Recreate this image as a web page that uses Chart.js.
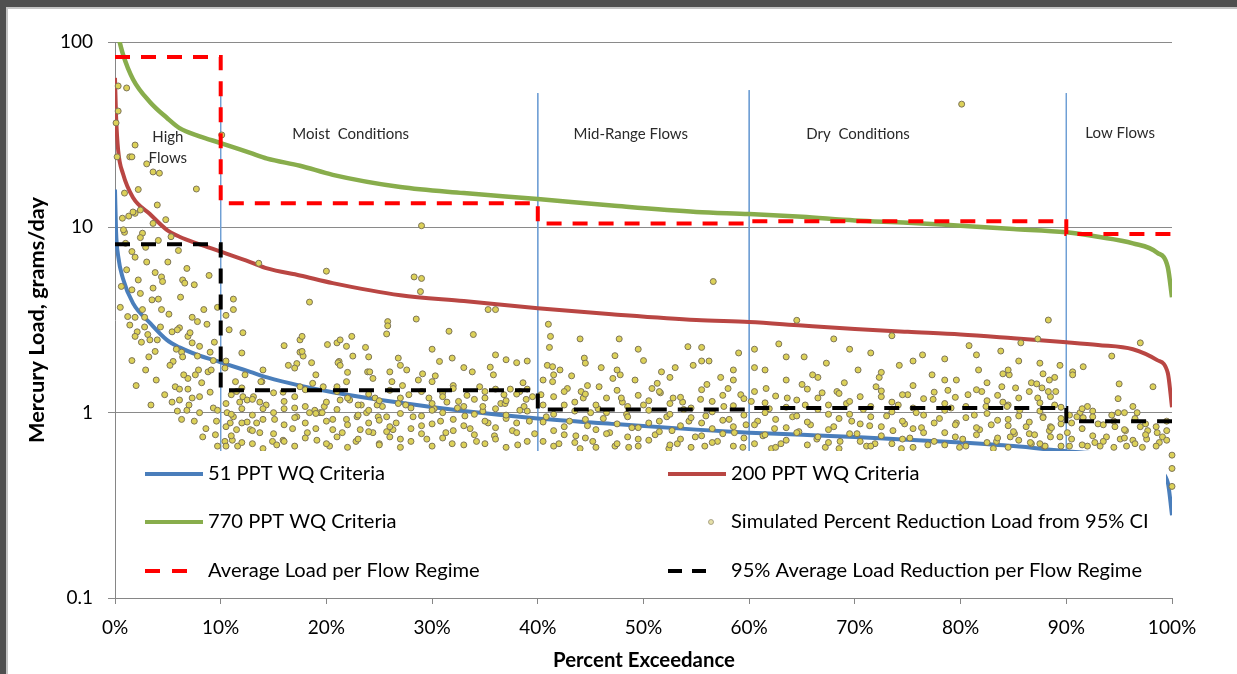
<!DOCTYPE html>
<html><head><meta charset="utf-8">
<script src="https://cdn.jsdelivr.net/npm/chart.js@4/dist/chart.umd.min.js"></script>
<style>html,body{margin:0;padding:0;background:#fff;overflow:hidden}canvas{display:block}</style>
</head><body>
<canvas id="c" width="1237" height="674"></canvas>
<script>
// ---------- DATA ----------
const exceedancePct = [0, 0.1, 0.3, 0.75, 1.7, 3.3, 4.9, 6.1, 8, 10, 12.8, 14.4, 17.5, 20.6, 27, 33, 40, 47, 55, 60, 65, 70, 75, 80, 85, 90, 93, 96.3, 98.6, 99.6, 100];
const load770 = [135, 122, 108, 86, 63, 47.5, 39, 34.3, 31, 28.5, 25.2, 23.5, 21.5, 19.2, 16.5, 15.3, 14.2, 13.1, 12.1, 11.8, 11.4, 10.9, 10.6, 10.2, 9.8, 9.4, 8.9, 8.2, 7.3, 6.1, 4.2];
const load200 = [64, 40, 26, 19.5, 14.5, 11.8, 9.7, 8.9, 8.1, 7.4, 6.5, 6.0, 5.5, 5.0, 4.3, 4.0, 3.66, 3.4, 3.16, 3.08, 2.95, 2.83, 2.73, 2.64, 2.52, 2.4, 2.32, 2.2, 1.92, 1.64, 1.07];
const load51 = [16, 9.5, 7.0, 5.3, 3.9, 3.05, 2.47, 2.25, 2.03, 1.87, 1.66, 1.55, 1.4, 1.29, 1.13, 1.02, 0.93, 0.87, 0.81, 0.78, 0.76, 0.74, 0.715, 0.69, 0.66, 0.62, 0.6, 0.57, 0.49, 0.42, 0.28];

const regimeEdges = [0, 10, 40, 60, 90, 100];
const avgLoadPerRegime = [83, 13.5, 10.5, 10.8, 9.2];
const avgReductionPerRegime = [8.1, 1.32, 1.04, 1.06, 0.9];
const regimeNames = [['High', 'Flows'], ['Moist  Conditions'], ['Mid-Range Flows'], ['Dry  Conditions'], ['Low Flows']];
const dividerPct = [10, 40, 60, 90];
const dividerTop = [53, 53, 55, 53];
const dividerBottom = 0.5;

const yTickValues = [0.1, 1, 10, 100];

const simulatedLoad = [
[0.3,57.9],[1.1,56.5],[0.3,42.4],[0.1,36.6],[0.2,24],[1.4,24],[1.6,24],[1.9,27.8],[3.6,19.9],[4.2,19.6],[0.9,15.3],[4.0,13.2],[7.7,16.1],[1.9,11.9],[1.3,11.5],[0.9,9.4],
[0.7,11.2],[1.7,12.1],[2.4,12.4],[0.8,9.7],[2.6,9.3],[2.4,8.8],[4.1,8.5],[6.0,7.5],[1.6,7.4],[1.9,6.9],[3.0,6.5],[5.0,6.5],[1.1,5.9],[3.8,5.7],[4.4,5.4],[2.2,5.2],[4.5,5.1],[6.4,5.2],[6.6,5.0],[3.6,4.7],[1.6,4.6],[2.4,4.4],[0.5,3.7],[3.5,4.06],[4.1,4.1],[2.6,3.6],[4.4,3.6],[1.9,3.27],[2.8,3.27],[7.3,3.27],[7.8,3.1],[1.4,2.97],[2.8,2.9],[8.7,3.0],[6.1,2.87],[5.4,2.73],[5.9,2.8],[2.1,2.73],[3.1,2.64],[1.9,2.58],[3.3,2.47],[4.0,2.47],[6.9,2.58],[7.3,2.38],[8.0,2.28],[3.8,2.14],[6.3,2.12],[1.6,1.91],[5.5,1.89],[6.4,2.0],[7.8,2.02],[9.0,2.12],[9.3,1.91],[8.8,1.66],[7.9,1.70],[7.6,1.6],[6.9,1.53],[9.0,1.29],[5.7,1.38],[6.1,1.34],[6.9,1.34],[5.4,1.14],[6.1,1.17],[7.3,1.2],[8.0,1.22],[5.9,1.02],[6.8,1.03],[8.0,1.0],[6.3,0.92],[9.3,1.06],[9.7,1.03],[9.5,0.76],[9.7,0.66],[8.3,0.74],[10.1,31.5],[9.7,3.7],
[2.0,1.4],[2.9,1.7],[3.4,1.1],[3.9,1.5],[4.7,1.25],[5.2,1.8],[5.8,2.2],[6.5,1.6],[7.0,1.1],[7.5,0.9],[8.2,1.45],[8.6,0.82],[9.1,1.7],[9.6,0.9],[4.3,2.9],[5.1,3.4],[6.2,4.2],[7.1,2.7],[8.4,3.6],[9.4,2.4],[3.2,2.0],[2.5,2.4],[1.2,3.3],[0.6,4.8],[1.0,8.2],[2.9,7.8],[3.6,10.5],[5.3,8.9],[4.8,11.0],[6.8,6.0],[7.5,4.9],[8.9,5.5],[2.2,16],[3.0,22.0],
[11.2,4.1],[11.2,3.6],[10.5,3.35],[18.4,3.95],[12.1,2.7],[10.8,2.8],[10.4,1.74],[11.4,1.47],[12.3,1.6],[13.9,1.47],[15.9,1.29],[16.4,1.8],[17.2,1.84],[17.5,2.47],[17.7,2.58],[17.5,2.12],[17.8,2.02],[17.0,1.74],[18.7,1.44],[20.1,2.33],[21.0,2.38],[21.3,2.47],[22.4,2.58],[21.2,1.89],[21.9,2.28],[22.5,2.02],[23.7,2.25],[23.9,1.66],[24.4,1.53],[25.8,3.1],[25.8,2.94],[25.7,2.66],[26.0,1.66],[11.5,1.3],[12.1,1.22],[12.5,1.17],[11.8,1.14],[13.1,1.22],[17.5,1.38],[21.0,1.38],[21.3,1.17],[22.2,1.17],[18.9,1.03],[18.4,1.0],[10.6,1.0],[11.2,0.95],[12.5,0.89],[13.4,0.88],[15.1,0.92],[17.2,0.95],[19.4,1.0],[20.6,0.92],[21.9,0.92],[22.9,0.95],[23.8,1.0],[24.9,0.95],[25.7,0.95],[11.5,0.81],[12.8,0.81],[13.7,0.78],[14.9,0.70],[15.9,0.71],[18.2,0.78],[19.1,0.71],[20.6,0.81],[23.2,0.81],[24.4,0.78],[25.7,0.79],[26.3,0.81],[11.1,0.71],[11.6,0.66],
[13.6,6.4],[20.0,5.8],[29.0,10.2],[28.3,5.4],[29.0,5.3],[28.9,4.5],[28.5,3.2],[31.6,2.75],[33.9,2.64],[35.3,3.6],[36.0,3.6],[17.7,2.14],[18.6,1.86],[21.1,1.86],[21.3,1.8],[26.8,1.97],[31.9,1.97],[35.5,1.76],[37.0,1.93],[38.0,1.86],[30.7,1.89],[24.1,1.66],[27.6,1.70],[29.1,1.62],[30.3,1.58],[33.8,1.66],[35.8,1.6],[38.6,1.45],[13.8,1.47],[19.7,1.38],[21.9,1.47],[26.2,1.47],[27.2,1.40],[28.7,1.5],[30.0,1.47],[32.0,1.4],[34.5,1.38],[36.0,1.34],[37.4,1.34],[38.3,1.3],
[27.5,1.1],[28.2,0.95],[29.0,0.85],[29.5,0.72],[30.2,1.05],[30.8,0.9],[31.3,0.78],[31.9,0.68],[32.5,1.15],[33.1,0.96],[33.6,0.82],[34.2,0.7],[34.8,1.02],[35.3,0.88],[35.9,0.75],[36.5,1.12],[37.0,0.93],[37.6,0.8],[38.1,0.67],[38.7,1.08],[39.2,0.9],[39.7,0.77],[26.6,0.88],[27.0,0.72],[25.0,0.68],[24.0,0.88],[22.8,0.7],[21.5,0.78],[20.3,0.66],[19.8,1.08],[18.0,0.88],[16.8,0.82],[16.0,1.05],[15.3,0.67],[14.3,1.1],[13.0,0.68],[12.0,1.05],[10.9,0.88],[10.4,0.7],[23.3,1.1],[24.6,1.2],[25.3,1.08],[27.8,1.25],[29.7,1.2],[31.0,1.28],[33.3,1.24],[35.0,1.2],[36.8,1.25],[38.9,1.18],[39.5,1.22],
[13.7,1.14],[17.0,1.06],[19.6,1.0],[24.8,1.1],[26.8,1.12],[30.0,1.03],[31.4,1.14],[32.4,1.06],[34.8,1.08],[36.9,1.12],[38.3,1.03],
[10.5,0.66],[10.5,0.84],[10.5,1.12],[10.5,1.9],[11.0,0.75],[11.0,0.98],[11.0,1.25],[12.0,0.69],[12.0,0.88],[12.0,1.36],[12.0,2.1],[13.0,0.8],[13.0,0.97],[13.0,1.18],[14.0,0.64],[14.0,0.92],[14.0,1.05],[14.0,1.7],[15.0,0.77],[15.0,1.0],[15.0,1.28],[16.0,0.7],[16.0,0.86],[16.0,1.15],[16.0,2.3],[17.0,0.66],[17.0,0.94],[17.0,1.22],[18.0,0.73],[18.0,1.08],[18.0,1.33],[19.0,0.82],[19.0,0.99],[19.0,1.6],[20.0,0.68],[20.0,0.9],[20.0,1.14],[21.0,0.74],[21.0,1.04],[21.0,1.3],[22.0,0.65],[22.0,0.86],[22.0,1.2],[22.0,1.65],[23.0,0.72],[23.0,0.97],[23.0,1.1],[24.0,0.79],[24.0,1.03],[24.0,1.26],[24.0,2.0],[25.0,0.67],[25.0,0.91],[25.0,1.16],[26.0,0.74],[26.0,0.84],[26.0,1.32],[27.0,0.65],[27.0,0.99],[27.0,1.2],[27.0,1.8],[28.0,0.7],[28.0,0.82],[28.0,1.06],[29.0,0.77],[29.0,0.96],[29.0,1.3],[30.0,0.66],[30.0,0.87],[30.0,1.12],[30.0,2.2],[31.0,0.73],[31.0,1.0],[31.0,1.22],[32.0,0.8],[32.0,0.92],[32.0,1.35],[33.0,0.67],[33.0,0.85],[33.0,1.08],[33.0,1.75],[34.0,0.76],[34.0,0.98],[34.0,1.18],[35.0,0.68],[35.0,0.9],[35.0,1.3],[36.0,0.72],[36.0,0.83],[36.0,1.05],[36.0,2.05],[37.0,0.65],[37.0,0.97],[37.0,1.16],[38.0,0.78],[38.0,0.88],[38.0,1.26],[39.0,0.7],[39.0,1.02],[39.0,1.34],[39.0,1.9],
[41.0,3.0],[41.2,2.58],[41.1,2.25],[44.0,2.5],[47.7,2.5],[44.4,1.97],[47.3,2.03],[50.0,1.91],[51.7,1.66],[54.2,2.27],[54.7,1.8],[40.9,1.8],[41.4,1.77],[42.1,1.7],[40.5,1.5],[41.4,1.47],[47.1,1.53],[47.8,1.6],[44.7,1.4],[45.8,1.38],[51.3,1.44],[52.8,1.2],[53.7,1.14],[48.0,1.14],[44.3,1.2],[45.0,1.0],
[40.3,1.25],[40.8,0.95],[41.5,0.8],[42.0,0.68],[42.5,1.1],[43.0,0.9],[43.6,0.75],[44.1,1.3],[44.7,0.85],[45.2,0.7],[45.7,1.05],[46.2,0.93],[46.8,0.78],[47.3,0.66],[47.9,1.2],[48.4,0.98],[48.9,0.83],[49.5,0.72],[50.0,1.1],[50.5,0.88],[51.1,0.76],[51.6,1.28],[52.2,0.95],[52.7,0.8],[53.2,0.68],[53.8,1.04],[54.3,0.9],[54.9,0.74],[55.4,1.18],[55.9,0.96],[56.5,0.82],[57.0,0.7],[57.6,1.08],[58.1,0.92],[58.6,0.78],[59.2,1.25],[59.7,0.86],[56.6,5.1],[55.5,2.25],[56.2,1.9],[57.3,1.55],[58.5,1.7],[59.0,2.1],[53.0,1.75],[49.2,1.5],[46.0,1.75],[43.2,1.58],[58.0,1.35],[50.8,1.35],[42.8,1.35],[56.0,1.42],[44.0,0.64],[48.6,0.65],[52.4,0.64],[55.8,0.66],[59.4,0.65],
[40.5,0.7],[40.5,0.89],[40.5,1.1],[41.5,0.66],[41.5,0.98],[41.5,1.22],[41.5,1.6],[42.5,0.76],[42.5,0.84],[42.5,1.3],[43.5,0.69],[43.5,1.02],[43.5,1.14],[44.5,0.73],[44.5,0.92],[44.5,1.26],[44.5,1.85],[45.5,0.65],[45.5,0.81],[45.5,1.1],[46.5,0.77],[46.5,1.0],[46.5,1.2],[47.5,0.68],[47.5,0.87],[47.5,1.32],[47.5,1.7],[48.5,0.74],[48.5,0.95],[48.5,1.08],[49.5,0.66],[49.5,0.83],[49.5,1.24],[49.5,2.2],[50.5,0.71],[50.5,1.03],[50.5,1.16],[51.5,0.79],[51.5,0.9],[51.5,1.3],[52.5,0.67],[52.5,0.98],[52.5,1.12],[52.5,1.55],[53.5,0.72],[53.5,0.85],[53.5,1.21],[54.5,0.65],[54.5,0.94],[54.5,1.06],[55.5,0.75],[55.5,0.88],[55.5,1.33],[55.5,1.9],[56.5,0.69],[56.5,1.01],[56.5,1.15],[57.5,0.77],[57.5,0.91],[57.5,1.24],[58.5,0.66],[58.5,0.84],[58.5,1.09],[58.5,1.5],[59.5,0.73],[59.5,0.97],[59.5,1.19],
[60.5,2.2],[61.5,1.7],[62.8,2.35],[63.5,1.5],[64.5,3.15],[65.2,2.0],[66.0,1.6],[67.3,1.85],[68.0,2.5],[69.0,1.45],[70.3,1.7],[71.5,2.1],[72.3,1.55],[73.5,2.6],[74.2,1.8],[75.5,1.4],[76.4,2.05],[77.3,1.6],[78.5,1.95],[79.6,1.5],[80.8,2.3],[81.7,1.7],[82.5,1.45],[83.8,2.15],[84.6,1.6],[85.5,1.9],[86.7,1.45],[87.3,2.5],[88.9,1.55],[89.4,1.8],[80.1,46.2],
[60.2,1.15],[60.8,0.9],[61.3,0.75],[61.9,1.05],[62.4,0.82],[63.0,0.68],[63.6,1.2],[64.1,0.95],[64.7,0.79],[65.3,1.1],[65.8,0.86],[66.4,0.72],[66.9,1.28],[67.5,0.98],[68.0,0.84],[68.6,0.7],[69.2,1.12],[69.7,0.9],[70.2,0.77],[70.8,1.04],[71.4,0.85],[71.9,0.68],[72.5,1.22],[73.0,0.96],[73.6,0.8],[74.1,1.1],[74.7,0.87],[75.2,0.73],[75.8,1.0],[76.3,0.83],[76.9,0.67],[77.4,1.18],[78.0,0.93],[78.5,0.78],[79.1,1.06],[79.6,0.88],[80.2,0.72],[80.7,1.25],[81.3,0.97],[81.8,0.81],[82.4,1.08],[82.9,0.86],[83.4,0.7],[84.0,1.14],[84.5,0.92],[85.1,0.77],[85.6,1.03],[86.2,0.84],[86.7,0.68],[87.3,1.2],[87.8,0.95],[88.4,0.8],[88.9,1.1],[89.5,0.87],[61.6,1.35],[65.0,1.42],[68.3,1.3],[72.0,1.38],[75.0,1.25],[78.8,1.32],[82.0,1.3],[85.2,1.36],[89.0,1.3],[62.1,0.64],[67.2,0.65],[71.1,0.66],[74.4,0.64],[79.9,0.65],[83.1,0.64],[87.9,0.66],
[60.5,0.68],[60.5,0.86],[60.5,1.3],[60.5,1.75],[61.5,0.76],[61.5,1.0],[61.5,1.13],[62.5,0.65],[62.5,0.92],[62.5,1.23],[63.5,0.71],[63.5,0.83],[63.5,1.07],[63.5,2.0],[64.5,0.78],[64.5,0.96],[64.5,1.17],[65.5,0.67],[65.5,0.89],[65.5,1.34],[66.5,0.74],[66.5,1.04],[66.5,1.2],[66.5,1.55],[67.5,0.69],[67.5,0.81],[67.5,1.1],[68.5,0.64],[68.5,0.93],[68.5,1.27],[69.5,0.77],[69.5,0.98],[69.5,1.15],[69.5,2.2],[70.5,0.7],[70.5,0.87],[70.5,1.22],[71.5,0.66],[71.5,0.95],[71.5,1.08],[72.5,0.75],[72.5,0.84],[72.5,1.31],[72.5,1.65],[73.5,0.68],[73.5,1.01],[73.5,1.14],[74.5,0.72],[74.5,0.9],[74.5,1.25],[75.5,0.65],[75.5,0.82],[75.5,1.06],[75.5,1.9],[76.5,0.78],[76.5,0.97],[76.5,1.19],[77.5,0.7],[77.5,0.88],[77.5,1.29],[78.5,0.67],[78.5,1.03],[78.5,1.12],[78.5,1.5],[79.5,0.74],[79.5,0.86],[79.5,1.21],[80.5,0.66],[80.5,0.94],[80.5,1.08],[81.5,0.76],[81.5,0.83],[81.5,1.33],[81.5,2.05],[82.5,0.69],[82.5,0.99],[82.5,1.16],[83.5,0.73],[83.5,0.91],[83.5,1.24],[84.5,0.65],[84.5,0.85],[84.5,1.1],[84.5,1.7],[85.5,0.71],[85.5,0.96],[85.5,1.2],[86.5,0.77],[86.5,0.89],[86.5,1.3],[87.5,0.68],[87.5,1.02],[87.5,1.13],[87.5,1.85],[88.5,0.74],[88.5,0.84],[88.5,1.22],[89.5,0.66],[89.5,0.93],[89.5,1.07],
[88.3,3.16],[85.7,2.38],[97.0,2.38],[94.3,2.02],[91.6,1.77],[90.6,1.66],[90.6,1.6],[87.8,1.62],[88.4,1.5],[87.2,1.43],[87.7,1.36],[88.3,1.3],[95.0,1.43],[98.2,1.38],[94.9,1.19],[92.0,1.08],[92.5,1.02],[94.3,0.97],[94.9,1.0],[96.3,1.08],[96.7,1.0],[91.3,1.0],[91.0,0.95],[91.6,0.94],[90.3,0.97],[90.1,0.78],[89.4,0.74],[88.6,0.83],[87.8,0.94],[93.0,0.87],[94.6,0.84],[95.6,0.8],[97.0,0.84],[97.7,0.8],[98.6,0.78],[99.5,0.8],[99.1,0.74],[98.8,0.69],[97.6,0.72],[96.3,0.71],[95.1,0.72],[93.8,0.74],[92.7,0.69],[92.0,0.66],[93.2,0.66],[95.7,0.66],[97.2,0.65],[90.3,0.66],
[84.0,1.62],[83.9,1.38],[84.4,1.08],[85.0,0.79],[84.7,0.74],[87.0,0.76],[86.6,0.69],[88.0,0.66],
[90.5,0.72],[90.5,0.88],[91.5,0.67],[91.5,0.82],[91.5,1.05],[92.5,0.75],[92.5,0.95],[93.5,0.7],[93.5,0.86],[94.5,0.65],[94.5,0.9],[95.5,0.73],[95.5,0.81],[95.5,1.0],[96.5,0.68],[96.5,0.93],[97.5,0.76],[97.5,0.87],[98.5,0.66],[98.5,0.84],[99.5,0.71],[99.5,0.9],
[100,0.59],[100,0.5],[100,0.4]
];

// ---------- BUILD ----------
const curve = vals => exceedancePct.map((x, i) => ({x, y: vals[i]}));
const steps = vals => { const p = []; vals.forEach((v, i) => { p.push({x: regimeEdges[i], y: v}, {x: regimeEdges[i + 1], y: v}); }); return p; };

const datasets = [];
dividerPct.forEach((p, i) => datasets.push({
  type: 'line', data: [{x: p, y: dividerTop[i]}, {x: p, y: dividerBottom}],
  borderColor: '#6f9fd4', borderWidth: 1, pointRadius: 0, order: 10
}));
datasets.push({type: 'line', label: '51 PPT WQ Criteria', data: curve(load51), borderColor: '#4a7ebb', borderWidth: 4, pointRadius: 0, cubicInterpolationMode: 'monotone', order: 6});
datasets.push({type: 'line', label: '200 PPT WQ Criteria', data: curve(load200), borderColor: '#b94643', borderWidth: 4, pointRadius: 0, cubicInterpolationMode: 'monotone', order: 6});
datasets.push({type: 'line', label: '770 PPT WQ Criteria', data: curve(load770), borderColor: '#88ad4c', borderWidth: 4.5, pointRadius: 0, cubicInterpolationMode: 'monotone', order: 6});
datasets.push({type: 'scatter', label: 'Simulated Percent Reduction Load from 95% CI', data: simulatedLoad.map(([x, y]) => ({x, y})),
  backgroundColor: '#dcd158', borderColor: '#7d7457', borderWidth: 1, pointRadius: 3, order: 4, clip: false});
datasets.push({type: 'line', label: 'Average Load per Flow Regime', data: steps(avgLoadPerRegime), borderColor: '#ff0000', borderWidth: 4, borderDash: [15, 11], pointRadius: 0, order: 1});
datasets.push({type: 'line', label: '95% Average Load Reduction per Flow Regime', data: steps(avgReductionPerRegime), borderColor: '#000000', borderWidth: 4, borderDash: [15, 11], pointRadius: 0, order: 2});

const FONT = 'Lato, "Open Sans", sans-serif';

function fitFont(ctx, text, width, weight, base) {
  ctx.font = `${weight} ${base}px ${FONT}`;
  const w = ctx.measureText(text).width;
  return `${weight} ${(base * width / w).toFixed(2)}px ${FONT}`;
}

const overlay = {
  id: 'overlay',
  afterDatasetsDraw(chart) {
    const {ctx, scales: {x}} = chart;
    ctx.save();
    // regime labels
    ctx.fillStyle = '#2a2a2a';
    ctx.textAlign = 'center';
    ctx.textBaseline = 'middle';
    ctx.font = `15px ${FONT}`;
    const labelPct = [5, 22.3, 48.8, 70.3, 95.1];
    regimeNames.forEach((lines, i) => {
      const cx = x.getPixelForValue(labelPct[i]);
      if (lines.length === 2) {
        ctx.fillText(lines[0], cx, 137);
        ctx.fillText(lines[1], cx, 158);
      } else {
        ctx.fillText(lines[0], cx, i === 4 ? 133 : 134);
      }
    });
    // legend box (opaque, over plot)
    ctx.fillStyle = '#ffffff';
    ctx.fillRect(117, 451, 1049, 141);
    const lf = fitFont(ctx, 'Simulated Percent Reduction Load from 95% CI', 418, 'normal', 18);
    ctx.font = lf;
    ctx.textAlign = 'left';
    const rows = [474, 522, 571];
    const L = {x0: 145, x1: 203, tx: 208};
    const R = {x0: 668, x1: 726, tx: 731};
    function sample(col, y, color, dash, width) {
      ctx.save();
      ctx.strokeStyle = color; ctx.lineWidth = width; ctx.setLineDash(dash);
      ctx.beginPath(); ctx.moveTo(col.x0, y); ctx.lineTo(dash.length ? col.x0 + 45 : col.x1, y); ctx.stroke();
      ctx.restore();
    }
    sample(L, rows[0], '#4a7ebb', [], 4);
    sample(L, rows[1], '#88ad4c', [], 4);
    sample(L, rows[2], '#ff0000', [15, 12], 4);
    sample(R, rows[0], '#b94643', [], 4);
    sample(R, rows[2], '#000000', [14, 10], 4);
    ctx.beginPath(); ctx.arc(711, rows[1], 2.5, 0, Math.PI * 2);
    ctx.fillStyle = '#e6e0a8'; ctx.fill(); ctx.strokeStyle = '#9a9478'; ctx.lineWidth = 0.8; ctx.stroke();
    ctx.fillStyle = '#000';
    ctx.fillText('51 PPT WQ Criteria', L.tx, rows[0]);
    ctx.fillText('770 PPT WQ Criteria', L.tx, rows[1]);
    ctx.fillText('Average Load per Flow Regime', L.tx, rows[2]);
    ctx.fillText('200 PPT WQ Criteria', R.tx, rows[0]);
    ctx.fillText('Simulated Percent Reduction Load from 95% CI', R.tx, rows[1]);
    ctx.fillText('95% Average Load Reduction per Flow Regime', R.tx, rows[2]);
    ctx.restore();
  },
  afterDraw(chart) {
    const {ctx} = chart;
    ctx.save();
    ctx.fillStyle = '#000';
    ctx.textAlign = 'center';
    ctx.textBaseline = 'middle';
    ctx.font = fitFont(ctx, 'Percent Exceedance', 182, 'bold', 18);
    ctx.fillText('Percent Exceedance', 644, 660);
    ctx.translate(37, 320);
    ctx.rotate(-Math.PI / 2);
    ctx.font = fitFont(ctx, 'Mercury Load, grams/day', 246, 'bold', 18);
    ctx.fillText('Mercury Load, grams/day', 0, 0);
    ctx.restore();
    // window frame
    ctx.save();
    ctx.fillStyle = '#4f4f4f';
    ctx.fillRect(0, 0, 1237, 7);
    ctx.fillRect(0, 0, 6, 674);
    ctx.fillStyle = '#c4c4c4';
    ctx.fillRect(6, 7, 1231, 2);
    ctx.fillRect(6, 7, 2, 667);
    ctx.restore();
  }
};

new Chart(document.getElementById('c'), {
  data: {datasets},
  options: {
    responsive: false,
    animation: false,
    devicePixelRatio: 1,
    layout: {padding: {top: 42, right: 65, left: 0, bottom: 0}},
    plugins: {legend: {display: false}, tooltip: {enabled: false}},
    scales: {
      x: {
        type: 'linear', min: 0, max: 100,
        ticks: {stepSize: 10, callback: v => v + '%', color: '#000', font: {family: FONT, size: 19}, padding: 12, maxRotation: 0},
        grid: {drawOnChartArea: false, drawTicks: true, tickLength: 6, color: '#868686'},
        border: {color: '#868686', width: 1},
        afterFit: s => { s.height = 76; }
      },
      y: {
        type: 'logarithmic', min: 0.1, max: 100,
        afterBuildTicks: s => { s.ticks = yTickValues.map(v => ({value: v, major: true})); },
        ticks: {callback: v => String(v), color: '#000', font: {family: FONT, size: 19}, padding: 15, autoSkip: false},
        grid: {color: '#8a8a8a', tickLength: 7, lineWidth: 1},
        border: {color: '#868686', width: 1},
        afterFit: s => { s.width = 115; }
      }
    }
  },
  plugins: [overlay]
});
</script>
</body></html>
